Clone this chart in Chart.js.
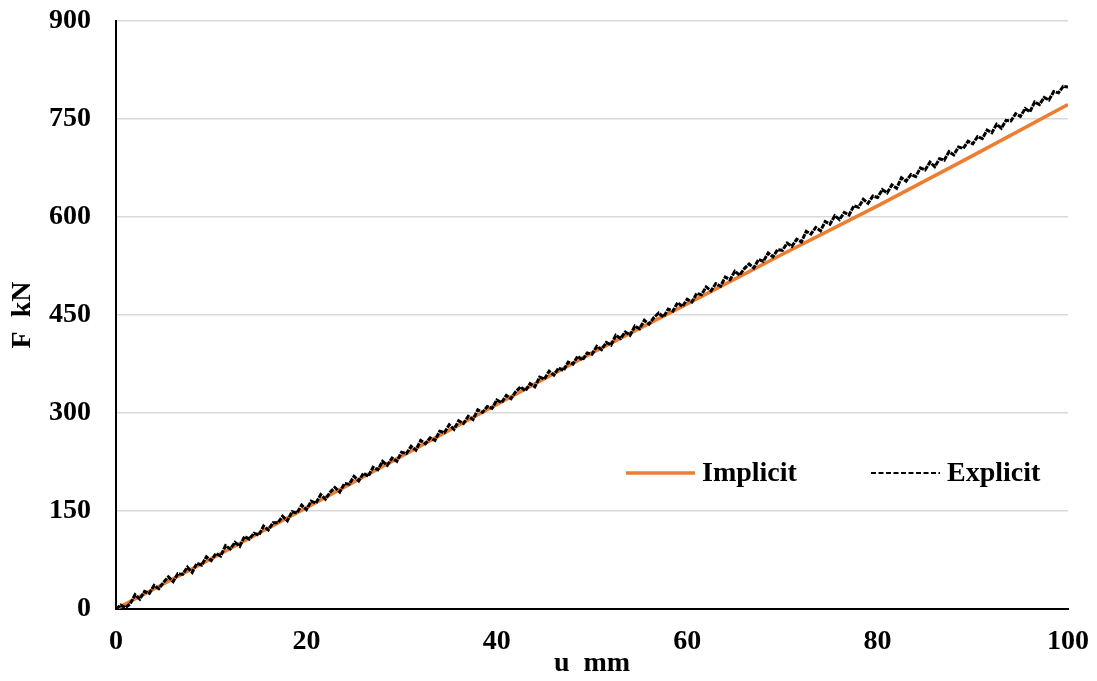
<!DOCTYPE html>
<html>
<head>
<meta charset="utf-8">
<script src="https://cdn.jsdelivr.net/npm/chart.js@4.4.1/dist/chart.umd.min.js"></script>
<style>
  html, body { margin: 0; padding: 0; background: #fff; }
</style>
</head>
<body>
<canvas id="myChart" width="1097" height="681"></canvas>
<script>
// implicit solution (smooth)
const uImplicit = [0, 10, 20, 30, 40, 50, 60, 70, 80, 90, 100];
const fImplicit = [0, 77, 155, 234, 313, 392, 467, 543, 617, 694, 772];

// explicit solution (noisy), read every 0.5 mm
const uExplicit = [
  0,0.5,1,1.5,2,2.5,3,3.5,4,4.5,5,5.5,6,6.5,7,7.5,8,8.5,9,9.5,
  10,10.5,11,11.5,12,12.5,13,13.5,14,14.5,15,15.5,16,16.5,17,17.5,18,18.5,19,19.5,
  20,20.5,21,21.5,22,22.5,23,23.5,24,24.5,25,25.5,26,26.5,27,27.5,28,28.5,29,29.5,
  30,30.5,31,31.5,32,32.5,33,33.5,34,34.5,35,35.5,36,36.5,37,37.5,38,38.5,39,39.5,
  40,40.5,41,41.5,42,42.5,43,43.5,44,44.5,45,45.5,46,46.5,47,47.5,48,48.5,49,49.5,
  50,50.5,51,51.5,52,52.5,53,53.5,54,54.5,55,55.5,56,56.5,57,57.5,58,58.5,59,59.5,
  60,60.5,61,61.5,62,62.5,63,63.5,64,64.5,65,65.5,66,66.5,67,67.5,68,68.5,69,69.5,
  70,70.5,71,71.5,72,72.5,73,73.5,74,74.5,75,75.5,76,76.5,77,77.5,78,78.5,79,79.5,
  80,80.5,81,81.5,82,82.5,83,83.5,84,84.5,85,85.5,86,86.5,87,87.5,88,88.5,89,89.5,
  90,90.5,91,91.5,92,92.5,93,93.5,94,94.5,95,95.5,96,96.5,97,97.5,98,98.5,99,99.5,
  100
];
const fExplicit = [
  0,6,2,8,22,15,27,24,36,31,41,49,42,54,53,64,56,70,67,80,
  74,85,81,97,92,102,96,111,107,116,113,127,121,132,132,142,135,149,147,159,
  152,165,162,175,168,179,186,179,192,191,203,196,208,203,217,213,226,220,231,226,
  240,238,249,243,258,253,262,258,272,270,282,275,288,284,295,290,305,301,310,307,
  320,316,327,322,333,340,334,345,340,355,352,364,358,369,365,378,375,387,381,392,
  390,402,397,408,404,419,414,424,419,433,429,442,436,446,453,447,459,456,469,463,
  474,470,483,481,493,487,498,494,508,504,517,511,521,528,522,535,532,545,539,550,
  549,560,555,566,562,578,574,584,579,593,589,602,596,607,603,617,615,627,621,632,
  630,642,637,649,644,660,655,665,662,675,672,684,677,689,687,700,695,707,705,716,
  712,723,720,733,729,742,736,748,747,758,754,766,761,776,772,783,779,792,790,800,
  799
];

const xTicks = [0, 20, 40, 60, 80, 100];
const yTicks = [0, 150, 300, 450, 600, 750, 900];

const seriesNames = ['Implicit', 'Explicit'];

const serif = "'Liberation Serif', 'Times New Roman', serif";
const orange = '#ED7D31';

const toPoints = (xs, ys) => xs.map((x, i) => ({ x: x, y: ys[i] }));

// legend drawn inside the plot, like the original
const insideLegend = {
  id: 'insideLegend',
  afterDraw(chart) {
    const ctx = chart.ctx;
    const area = chart.chartArea;
    const y = chart.scales.y.getPixelForValue(208);
    ctx.save();
    ctx.font = 'bold 28px ' + serif;
    ctx.fillStyle = '#000';
    ctx.textBaseline = 'middle';

    ctx.strokeStyle = orange;
    ctx.lineWidth = 3.5;
    ctx.beginPath();
    ctx.moveTo(area.left + 510, y);
    ctx.lineTo(area.left + 579, y);
    ctx.stroke();
    ctx.fillText(seriesNames[0], area.left + 586, y + 1);

    ctx.strokeStyle = '#000';
    ctx.lineWidth = 2;
    ctx.setLineDash([5, 2.5]);
    ctx.beginPath();
    ctx.moveTo(area.left + 755, y);
    ctx.lineTo(area.left + 824, y);
    ctx.stroke();
    ctx.setLineDash([]);
    ctx.fillText(seriesNames[1], area.left + 831, y + 1);
    ctx.restore();
  }
};

new Chart('myChart', {
  type: 'line',
  data: {
    datasets: [{
      label: seriesNames[0],
      data: toPoints(uImplicit, fImplicit),
      borderColor: orange,
      borderWidth: 3.5,
      pointRadius: 0,
      fill: false,
      order: 2
    }, {
      label: seriesNames[1],
      data: toPoints(uExplicit, fExplicit),
      borderColor: '#000',
      borderWidth: 3,
      borderDash: [5, 1],
      pointRadius: 0,
      fill: false,
      order: 1
    }]
  },
  options: {
    responsive: false,
    animation: false,
    layout: { padding: { left: 0, right: 29, top: 21, bottom: 0 } },
    plugins: {
      legend: { display: false },
      tooltip: { enabled: false }
    },
    scales: {
      x: {
        type: 'linear',
        min: 0, max: 100,
        afterBuildTicks: (s) => { s.ticks = xTicks.map(v => ({ value: v })); },
        afterFit: (s) => { s.height = 72; s.paddingLeft = 0; s.paddingRight = 0; },
        grid: { display: false, drawTicks: false },
        border: { display: true, color: '#000', width: 2 },
        ticks: { color: '#000', padding: 16, font: { family: serif, size: 28, weight: 'bold' } },
        title: {
          display: true, text: 'u  mm', color: '#000',
          font: { family: serif, size: 28, weight: 'bold' },
          padding: { top: 0, bottom: 0 }
        }
      },
      y: {
        min: 0, max: 900,
        afterBuildTicks: (s) => { s.ticks = yTicks.map(v => ({ value: v })); },
        afterFit: (s) => { s.width = 116; s.paddingTop = 0; s.paddingBottom = 0; },
        grid: { color: '#d9d9d9', lineWidth: 1.5, drawTicks: false },
        border: { display: true, color: '#000', width: 2 },
        ticks: { color: '#000', padding: 25, font: { family: serif, size: 28, weight: 'bold' } },
        title: {
          display: true, text: 'F  kN', color: '#000',
          font: { family: serif, size: 28, weight: 'bold' },
          padding: { top: 6, bottom: 0 }
        }
      }
    }
  },
  plugins: [insideLegend]
});
</script>
</body>
</html>
